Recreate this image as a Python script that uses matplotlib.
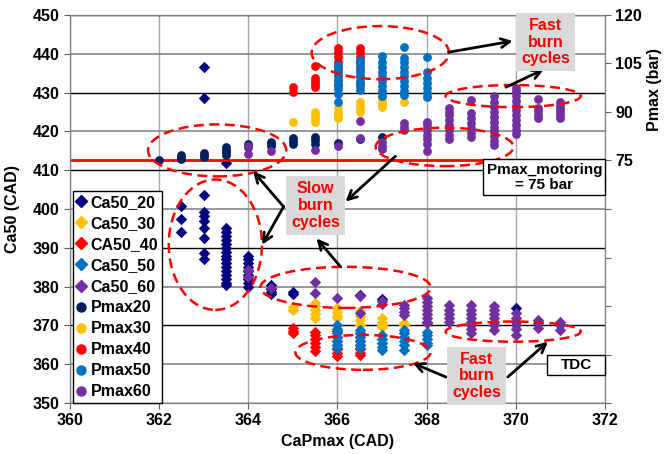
import matplotlib
matplotlib.use('Agg')
import matplotlib.pyplot as plt
from matplotlib.patches import Ellipse, Rectangle
from matplotlib.ticker import MultipleLocator, FuncFormatter
from matplotlib.lines import Line2D

# ---- data (x = CaPmax in CAD, values per crank angle) ----
# Ca50 (CAD), left axis
ca50_20 = {362.5: [400.7, 397.5, 394.1],
           363.0: [436.5, 428.5, 403.6, 399.2, 398.3, 396.8, 395.1, 392.6, 388.7, 387.0],
           363.5: [411.8, 395, 394, 393, 392, 391, 390, 389, 388, 387, 386, 385, 384, 383, 382, 381, 380.5],
           364.0: [388, 387, 386, 385, 384, 383, 382, 381, 380],
           364.5: [380.5, 379.5, 378.5, 378],
           365.0: [378.6, 378.0],
           366.5: [377.8],
           367.0: [376.8],
           370.0: [374.5]}
ca50_30 = {365.0: [374.8, 374.0],
           365.5: [375.8, 375, 374, 373, 372],
           366.0: [374.5, 373.5, 372.5, 372],
           366.5: [373.6, 372.5, 371.5, 370.2],
           367.0: [371.9, 371, 370, 369.7],
           367.5: [370.6, 370.2]}
ca50_40 = {365.0: [369.4, 368.6, 368.0],
           365.5: [368.4, 367.5, 366.5, 365.5, 364.5, 363.5],
           366.0: [368.5, 367, 366, 365, 364, 363, 362],
           366.5: [368, 367, 366, 365, 364, 363, 362.4]}
ca50_50 = {366.0: [370.2, 369, 368, 367, 366, 365, 364.1],
           366.5: [368.9, 368, 367, 366, 365, 364.1],
           367.0: [367.6, 366.5, 365.5, 364.5, 363.7],
           367.5: [368.9, 368, 367, 366, 365, 363.7],
           368.0: [368.4, 367.5, 366.5, 365.5, 365]}
ca50_60 = {364.0: [384.4, 382.5],
           364.5: [379.6],
           365.5: [381.3, 378.3],
           366.0: [377.1],
           366.5: [377.5, 373.2],
           367.0: [376.2, 375.5],
           367.5: [375.3, 374.5, 373.5, 372.7],
           368.0: [377.1, 376, 375, 374, 373, 372, 371, 370.6],
           368.5: [375.3, 374, 373, 372, 371],
           369.0: [375.3, 374, 373, 372, 371, 370, 369, 368],
           369.5: [374.9, 374, 373, 372, 371, 370, 368.9],
           370.0: [373.2, 372, 371, 370, 369, 367.6],
           370.5: [371.4, 370.5, 369.3],
           371.0: [371, 370, 368.9]}

# Pmax (bar), right axis
pmax20 = {362.0: [75.3],
          362.5: [75.6, 76.2, 76.7],
          363.0: [76.1, 76.7, 77.2],
          363.5: [76.8, 77.5, 78.3, 79.1],
          364.0: [79.2, 80.1],
          364.5: [79.5, 80.2, 80.8],
          365.0: [80.2, 81, 81.9],
          365.5: [80.2, 81.3, 82.4],
          366.0: [80.3],
          366.5: [81.8],
          367.0: [82.2]}
pmax30 = {365.0: [87.0],
          365.5: [86.9, 88, 89, 90.1],
          366.0: [88, 89, 90, 91.7],
          366.5: [90, 91, 92, 93.2],
          367.0: [91.6, 92.5, 93.5, 94.5],
          367.5: [93.1],
          368.0: [94.5, 95.5]}
pmax40 = {365.0: [96.3, 97.6],
          365.5: [97.8, 98.7, 99.6, 100.5, 104.1],
          366.0: [98.3, 99.5, 101, 102.5, 104, 105.5, 107, 108.5, 109.8],
          366.5: [99, 101, 103, 105, 107, 108.5, 109.8]}
pmax50 = {366.0: [93.1, 95.5, 97, 98.5, 100, 101.5, 103, 104.6],
          366.5: [96.7, 98, 99.5, 101, 102.5, 104, 105, 106.1],
          367.0: [95, 96.5, 98, 99.5, 101, 102.5, 104, 105.5, 107.2],
          367.5: [95.2, 96.5, 98, 99.5, 101, 102.5, 104, 105.5, 106.7, 110],
          368.0: [94.7, 96, 97.5, 99, 100.5, 102.5, 106.9]}
pmax60 = {364.0: [76.9, 79.5],
          364.5: [77.9],
          365.5: [78.4],
          366.0: [79.5],
          366.5: [82.1, 87.2],
          367.0: [78.6, 79.5, 80.8],
          367.5: [84.3, 85.3, 86.5],
          368.0: [77.8, 80, 81.5, 83, 84.5, 86, 87],
          368.5: [81.8, 83, 84.5, 86, 87.5, 89, 90, 91.2],
          369.0: [82.3, 83.5, 85, 86.5, 88, 89.6, 93.7],
          369.5: [79.7, 81, 82.5, 84, 85.5, 87, 88.5, 90, 91.5, 93, 94.8],
          370.0: [83.3, 84.5, 86, 87.5, 89, 90.5, 92, 93.5, 95, 96.5, 97.4],
          370.5: [88, 89, 90.2, 91.2, 94],
          371.0: [88, 89, 90, 91, 92, 93.2]}

pmax_motoring = 75

ca50_series = [(ca50_20, 'Ca50_20', '#000080'), (ca50_30, 'Ca50_30', '#FFC000'),
               (ca50_40, 'CA50_40', '#FF0000'), (ca50_50, 'Ca50_50', '#0070C0'),
               (ca50_60, 'Ca50_60', '#7030A0')]
pmax_series = [(pmax20, 'Pmax20', '#002060'), (pmax30, 'Pmax30', '#FFC000'),
               (pmax40, 'Pmax40', '#FF0000'), (pmax50, 'Pmax50', '#0070C0'),
               (pmax60, 'Pmax60', '#7030A0')]


def flatten(d):
    xs, ys = [], []
    for k, vals in d.items():
        for v in vals:
            xs.append(k)
            ys.append(v)
    return xs, ys


plt.rcParams['font.family'] = ['Liberation Sans', 'DejaVu Sans']
plt.rcParams['font.weight'] = 'bold'

fig = plt.figure(figsize=(6.67, 4.54), dpi=100)
ax = fig.add_axes([70 / 667, 51 / 454, 535 / 667, 388 / 454])
ax2 = ax.twinx()

handles = []
for d, name, col in ca50_series:
    xs, ys = flatten(d)
    ax.scatter(xs, ys, marker='D', s=34, color=col, linewidths=0, zorder=3)
    handles.append(Line2D([], [], marker='D', ls='', color=col, markersize=6, label=name))
for d, name, col in pmax_series:
    xs, ys = flatten(d)
    ax2.scatter(xs, ys, marker='o', s=40, color=col, linewidths=0, zorder=3)
    handles.append(Line2D([], [], marker='o', ls='', color=col, markersize=6.5, label=name))

ax2.axhline(pmax_motoring, color='#FF0000', lw=2, zorder=2)

# axes & grid
ax.set_xlim(360, 372)
ax.set_ylim(350, 450)
ax2.set_ylim(0, 120)
ax.xaxis.set_major_locator(MultipleLocator(2))
ax.yaxis.set_major_locator(MultipleLocator(10))
ax2.yaxis.set_major_locator(MultipleLocator(15))
ax2.yaxis.set_major_formatter(FuncFormatter(lambda v, p: '%d' % v if v >= 75 else ''))
ax.set_axisbelow(True)
ax.grid(True, axis='x', color='#A6A6A6', lw=1)
ax.grid(True, axis='y', color='#868686', lw=1.2)
fig.canvas.draw()
for val, gl in zip(ax.get_yticks(), ax.get_ygridlines()):
    if int(round(val)) % 20 == 10:
        gl.set_color('black')
        gl.set_linewidth(1)

for a in (ax, ax2):
    for sp in a.spines.values():
        sp.set_color('#808080')
ax.spines['left'].set_color('#404040')
ax.tick_params(axis='both', labelsize=11.5, length=4, color='#606060', direction='out')
ax2.tick_params(axis='y', labelsize=11.5, length=4, color='#606060', direction='out')

ax.set_xlabel('CaPmax (CAD)', fontsize=11.5, fontweight='bold', labelpad=4)
ax.set_ylabel('Ca50 (CAD)', fontsize=11.5, fontweight='bold')
ax.yaxis.set_label_coords(-0.093, 0.5)
ax2.set_ylabel('Pmax (bar)', fontsize=11.5, fontweight='bold')
ax2.yaxis.set_label_coords(1.078, 0.807)

leg = ax2.legend(handles=handles, loc='lower left', bbox_to_anchor=(0.005, 0.0),
                 borderaxespad=0, fontsize=11.5, frameon=True, fancybox=False,
                 edgecolor='black', framealpha=1, handlelength=0.6, handletextpad=0.3,
                 labelspacing=0.38, borderpad=0.22)
leg.get_frame().set_linewidth(1)
leg.set_zorder(10)

# dashed ellipses (centre x, centre y, width, height) in Ca50 coordinates
ellipses = [(363.30, 415.1, 3.10, 13.4), (366.96, 440.3, 3.08, 13.7),
            (369.94, 429.1, 3.03, 5.7), (368.40, 416.0, 3.09, 9.9),
            (363.26, 390.8, 2.09, 33.6), (366.18, 379.8, 3.82, 10.6),
            (366.57, 363.05, 3.03, 9.0), (369.94, 368.4, 3.03, 5.2)]
for cx, cy, w, h in ellipses:
    ax2.add_patch(Ellipse((cx, cy), w, h, transform=ax.transData, fill=False,
                          edgecolor='#FF0000', lw=1.8, ls=(0, (4, 2.2)), zorder=6))

arrows = [((368.49, 440.4), (369.93, 443.3)), ((369.78, 431.4), (370.63, 436.0)),
          ((364.79, 400.6), (364.11, 409.7)), ((364.79, 400.6), (364.31, 390.8)),
          ((366.07, 385.1), (365.53, 392.4)), ((367.30, 413.6), (366.18, 401.9)),
          ((368.43, 356.7), (367.69, 360.3)), ((369.82, 356.7), (370.72, 365.8))]
for tail, head in arrows:
    ax2.annotate('', xy=head, xytext=tail, xycoords=ax.transData, textcoords=ax.transData,
                 arrowprops=dict(arrowstyle='->', lw=2, color='black', mutation_scale=16,
                                 shrinkA=0, shrinkB=0), zorder=7)

gray_box = dict(boxstyle='square,pad=0.3', facecolor='#D9D9D9', edgecolor='none')
for (tx, ty), txt in [((370.67, 443.0), 'Fast\nburn\ncycles'),
                      ((365.51, 400.9), 'Slow\nburn\ncycles'),
                      ((369.12, 357.0), 'Fast\nburn\ncycles')]:
    ax2.text(tx, ty, txt, transform=ax.transData, ha='center', va='center',
             color='#FF0000', fontsize=11.5, fontweight='bold', linespacing=1.15,
             bbox=gray_box, zorder=8)

# white label boxes (x0, y0, width, height in Ca50 coordinates)
for (x0, y0, w, h), (tx, ty), txt in [((369.26, 403.5, 2.74, 9.3), (370.64, 408.1), 'Pmax_motoring\n= 75 bar'),
                                      ((370.70, 357.2, 1.30, 5.2), (371.36, 359.8), 'TDC')]:
    ax2.add_patch(Rectangle((x0, y0), w, h, transform=ax.transData, facecolor='white',
                            edgecolor='black', lw=1, zorder=8, clip_on=False))
    ax2.text(tx, ty, txt, transform=ax.transData, ha='center', va='center',
             fontsize=11, fontweight='bold', linespacing=1.05, zorder=9)

fig.savefig('out.png', dpi=100)
